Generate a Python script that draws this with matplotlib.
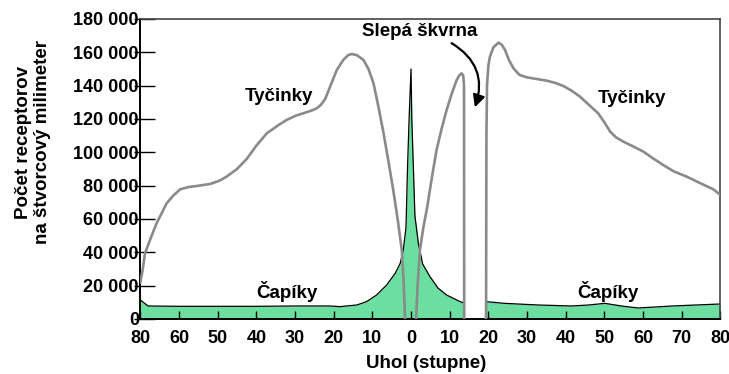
import matplotlib
matplotlib.use("Agg")
import matplotlib.pyplot as plt
from matplotlib.ticker import FixedLocator

plt.rcParams["font.family"] = ["Liberation Sans", "DejaVu Sans"]
plt.rcParams["font.weight"] = "bold"

GREEN = "#6cdfa0"
ROD_GRAY = "#8a8a8a"

# rods (tyčinky): temporal side, between fovea and blind spot, nasal side
rod_left_x = [-70, -69.4, -68.8, -67.5, -65.8, -63.2, -61.5, -59.7, -57.5, -55.4, -52.0,
              -49.5, -47.7, -45.0, -42.5, -40.0, -37.3, -34.5, -32.2, -29.8, -27.9, -25.8,
              -24.4, -23.3, -22.2, -21.0, -19.2, -17.5, -16.2, -15.3, -14.0, -12.3, -11.0,
              -9.7, -8.4, -7.1, -5.8, -4.6, -3.4, -2.4, -1.9, -1.55]
rod_left_y = [22000, 29400, 39400, 47400, 57400, 69400, 74000, 77800, 79200, 79800, 81000,
              83000, 85400, 90000, 96000, 104000, 111400, 116000, 119400, 122000, 123400, 125000,
              126400, 128500, 132000, 139000, 149400, 155500, 158400, 159000, 158300, 155400, 150000,
              141400, 127000, 111400, 94000, 77400, 59000, 41400, 22000, 0]

rod_mid_x = [1.3, 1.7, 2.3, 3.2, 4.2, 5.4, 6.6, 7.9, 9.2, 10.5, 11.8, 12.5, 13.1, 13.5, 13.7, 13.75]
rod_mid_y = [0, 20000, 41400, 55000, 67400, 85000, 101400, 114000, 125400, 135000, 143400, 146200,
             147400, 146000, 140000, 0]

rod_right_x = [19.4, 19.5, 19.65, 20.0, 20.4, 21.3, 22.6, 23.5, 24.3, 25.4, 26.5, 28.0, 29.9,
               32.5, 35.1, 37.5, 39.4, 41.5, 43.7, 46.0, 48.4, 50.0, 51.5, 53.0, 54.9, 57.5,
               60.1, 62.5, 65.2, 68.0, 71.3, 74.5, 78.2, 80]
rod_right_y = [0, 110000, 140000, 152000, 157400, 163000, 165800, 164500, 161400, 155000, 150400,
               146500, 145000, 144000, 143000, 141500, 139800, 137000, 133400, 128500, 123400, 118000,
               112400, 109000, 106400, 103500, 100400, 96500, 92400, 88500, 85400, 81800, 77800, 74400]

# cones (čapíky)
cone_left_x = [-70, -68.0, -60, -50, -40, -30, -21, -18.4, -14.0, -11.5, -8.9, -6.3,
               -4.1, -2.8, -2.0, -1.3, -0.9, -0.5, 0.0, 0.2, 0.6, 1.0, 1.9, 3.0, 4.9,
               7.0, 9.2, 12.7, 13.7]
cone_left_y = [11400, 7800, 7600, 7600, 7600, 7800, 7800, 7400, 8400, 10400, 14400, 20400,
               27400, 33400, 41400, 55000, 91400, 120000, 150000, 120000, 91400, 62000, 45400, 33000, 25400,
               18500, 14400, 10400, 9600]

cone_right_x = [19.4, 24.1, 32.8, 41.5, 46.0, 50.1, 54.4, 58.7, 67.5, 80]
cone_right_y = [10400, 9400, 8400, 7800, 8400, 9400, 7800, 6600, 7800, 9000]

x_ticks = [-70, -60, -50, -40, -30, -20, -10, 0, 10, 20, 30, 40, 50, 60, 70, 80]
x_tick_labels = ["80", "60", "50", "40", "30", "20", "10", "0",
                 "10", "20", "30", "40", "50", "60", "70", "80"]
y_ticks = [0, 20000, 40000, 60000, 80000, 100000, 120000, 140000, 160000, 180000]
y_tick_labels = ["0", "20 000", "40 000", "60 000", "80 000", "100 000",
                 "120 000", "140 000", "160 000", "180 000"]

fig = plt.figure(figsize=(7.29, 3.74), dpi=100)
ax = fig.add_axes([0.1925, 0.1471, 0.7957, 0.8021])

# cones: green area with black outline
for xs, ys in [(cone_left_x, cone_left_y), (cone_right_x, cone_right_y)]:
    ax.fill_between(xs, ys, 0, color=GREEN, lw=0, zorder=1)
    ax.plot(xs, ys, color="black", lw=0.9, zorder=2)

# rods: gray line
for xs, ys in [(rod_left_x, rod_left_y), (rod_mid_x, rod_mid_y), (rod_right_x, rod_right_y)]:
    ax.plot(xs, ys, color=ROD_GRAY, lw=1.9, zorder=3, solid_joinstyle="round")

ax.set_xlim(-70, 80)
ax.set_ylim(0, 180000)

ax.set_xticks(x_ticks)
ax.set_xticklabels(x_tick_labels, fontsize=13)
ax.set_yticks(y_ticks)
ax.set_yticklabels(y_tick_labels, fontsize=13)
ax.tick_params(axis="x", direction="in", length=6, width=1, pad=8)
ax.tick_params(axis="y", direction="in", length=11, width=1, pad=1)
# short outward stubs on the y ticks
ax.yaxis.remove_overlapping_locs = False
ax.yaxis.set_minor_locator(FixedLocator(y_ticks))
ax.tick_params(axis="y", which="minor", direction="out", length=4, width=1)

for side in ["left", "bottom"]:
    ax.spines[side].set_color("black")
    ax.spines[side].set_linewidth(1.4)
for side in ["top", "right"]:
    ax.spines[side].set_color("#444444")
    ax.spines[side].set_linewidth(1.2)

lab = dict(fontsize=13.5, fontweight="bold", ha="center", va="center")
ax.text(-34.1, 133200, "Tyčinky", **lab)
ax.text(57.1, 132000, "Tyčinky", **lab)
ax.text(-32.1, 16200, "Čapíky", **lab)
ax.text(50.9, 16200, "Čapíky", **lab)
ax.text(2.3, 172200, "Slepá škvrna", **lab)

ax.annotate("", xy=(16.5, 127000), xytext=(10.5, 165500),
            arrowprops=dict(arrowstyle="-|>", color="black", lw=1.6,
                            mutation_scale=18, shrinkA=0, shrinkB=0,
                            connectionstyle="arc3,rad=-0.4"))

fig.text(0.045, 0.62, "Počet receptorov\nna štvorcový milimeter", rotation=90,
         ha="center", va="center", multialignment="center", fontsize=13.5,
         fontweight="bold", linespacing=1.15)
fig.text(0.585, 0.027, "Uhol (stupne)", ha="center", va="center",
         fontsize=13.5, fontweight="bold")

fig.savefig("out.png", dpi=100)
